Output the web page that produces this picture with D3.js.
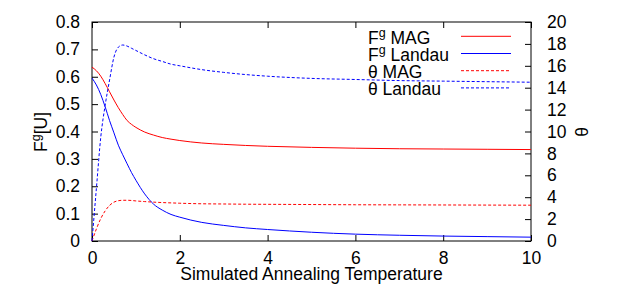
<!DOCTYPE html>
<html>
<head>
<meta charset="utf-8">
<script src="https://cdn.jsdelivr.net/npm/d3@7.9.0/dist/d3.min.js"></script>
<style>
  body { margin: 0; background: #fff; }
  text { font-family: "Liberation Sans", Arial, sans-serif; }
</style>
</head>
<body>
<div id="chart"></div>
<script>
// temperature samples
var temps = [0, 0.1, 0.2, 0.3, 0.4, 0.5, 0.6, 0.7, 0.8, 0.9, 1.0, 1.2, 1.4, 1.6, 1.8, 2.0, 2.5, 3, 3.5, 4, 5, 6, 7, 8, 9, 10];

// F^g (left axis)
var fMag    = [0.635, 0.622, 0.602, 0.575, 0.545, 0.515, 0.487, 0.462, 0.440, 0.426, 0.415, 0.398, 0.387, 0.378, 0.372, 0.367, 0.358, 0.353, 0.349, 0.346, 0.342, 0.339, 0.337, 0.336, 0.335, 0.334];
var fLandau = [0.595, 0.570, 0.535, 0.490, 0.440, 0.395, 0.350, 0.315, 0.282, 0.250, 0.222, 0.172, 0.135, 0.113, 0.097, 0.087, 0.068, 0.057, 0.048, 0.042, 0.032, 0.025, 0.021, 0.018, 0.016, 0.014];

// theta (right axis)
var thMag    = [0, 1.1, 2.05, 2.75, 3.25, 3.55, 3.68, 3.72, 3.72, 3.70, 3.66, 3.60, 3.55, 3.51, 3.48, 3.45, 3.40, 3.38, 3.36, 3.35, 3.33, 3.31, 3.30, 3.29, 3.28, 3.27];
var thLandau = [0, 4.8, 9.5, 12.4, 14.7, 16.8, 17.7, 17.9, 17.8, 17.6, 17.4, 17.0, 16.65, 16.4, 16.15, 16.0, 15.65, 15.4, 15.2, 15.05, 14.85, 14.75, 14.65, 14.6, 14.55, 14.5];

var xTicks = [0, 2, 4, 6, 8, 10];
var leftTicks = [0, 0.1, 0.2, 0.3, 0.4, 0.5, 0.6, 0.7, 0.8];
var rightTicks = [0, 2, 4, 6, 8, 10, 12, 14, 16, 18, 20];

var W = 623, H = 294;
var margin = {top: 22, right: 92, bottom: 53, left: 92};
var width = W - margin.left - margin.right,
    height = H - margin.top - margin.bottom;

var svg = d3.select("#chart").append("svg")
    .attr("width", W)
    .attr("height", H);

var g = svg.append("g")
    .attr("transform", "translate(" + margin.left + "," + margin.top + ")");

var x = d3.scaleLinear().domain([0, 10]).range([0, width]);
var y = d3.scaleLinear().domain([0, 0.8]).range([height, 0]);
var y2 = d3.scaleLinear().domain([0, 20]).range([height, 0]);

var fontSize = 17.5;

function styleAxis(sel) {
    sel.select(".domain").remove();
    sel.selectAll("line").attr("stroke", "#000");
    sel.selectAll("text").attr("font-size", fontSize).attr("fill", "#000")
        .attr("font-family", "Liberation Sans, Arial, sans-serif");
}

// left
g.append("g")
    .call(d3.axisLeft(y).tickValues(leftTicks).tickSize(-6).tickPadding(12)
        .tickFormat(d => d === 0 ? "0" : d3.format(".1f")(d)))
    .call(styleAxis);

// bottom
g.append("g")
    .attr("transform", "translate(0," + height + ")")
    .call(d3.axisBottom(x).tickValues(xTicks).tickSize(-6).tickPadding(11))
    .call(styleAxis);

// top (mirror, no labels)
g.append("g")
    .call(d3.axisTop(x).tickValues(xTicks).tickSize(-6).tickFormat(""))
    .call(styleAxis);

// right
g.append("g")
    .attr("transform", "translate(" + width + ",0)")
    .call(d3.axisRight(y2).tickValues(rightTicks).tickSize(-6).tickPadding(16))
    .call(styleAxis);

// border
g.append("rect")
    .attr("width", width)
    .attr("height", height)
    .attr("fill", "none")
    .attr("stroke", "#000")
    .attr("stroke-width", 1);

var series = [
    {name: "MAG", sym: "F", vals: fMag, scale: y, color: "#ff0000", dash: null},
    {name: "Landau", sym: "F", vals: fLandau, scale: y, color: "#0000ff", dash: null},
    {name: "MAG", sym: "θ", vals: thMag, scale: y2, color: "#ff0000", dash: "3,2"},
    {name: "Landau", sym: "θ", vals: thLandau, scale: y2, color: "#0000ff", dash: "3,2"}
];

series.forEach(function(s) {
    var line = d3.line()
        .x((d, i) => x(temps[i]))
        .y(d => s.scale(d))
        .curve(d3.curveMonotoneX);
    g.append("path")
        .datum(s.vals)
        .attr("d", line)
        .attr("fill", "none")
        .attr("stroke", s.color)
        .attr("stroke-width", 1)
        .attr("stroke-dasharray", s.dash);
});

// legend
var legend = svg.append("g");
series.forEach(function(s, i) {
    var ly = 36.3 + i * 17.2;
    var t = legend.append("text")
        .attr("x", 368)
        .attr("y", ly + 7.5)
        .attr("font-size", fontSize);
    t.append("tspan").text(s.sym);
    if (s.sym === "F") {
        t.append("tspan").attr("dy", -7).attr("font-size", 12.5).text("g");
        t.append("tspan").attr("dy", 7).text(" " + s.name);
    } else {
        t.append("tspan").text(" " + s.name);
    }
    legend.append("line")
        .attr("x1", 461).attr("x2", 511)
        .attr("y1", ly).attr("y2", ly)
        .attr("stroke", s.color)
        .attr("stroke-width", 1)
        .attr("stroke-dasharray", s.dash);
});

// x axis title
svg.append("text")
    .attr("x", margin.left + width / 2)
    .attr("y", 280)
    .attr("text-anchor", "middle")
    .attr("font-size", fontSize)
    .text("Simulated Annealing Temperature");

// left title
var lt = svg.append("text")
    .attr("transform", "translate(47,132) rotate(-90)")
    .attr("text-anchor", "middle")
    .attr("font-size", fontSize);
lt.append("tspan").text("F");
lt.append("tspan").attr("dy", -7).attr("font-size", 12.5).text("g");
lt.append("tspan").attr("dy", 7).text("[U]");

// right title
svg.append("text")
    .attr("transform", "translate(588,132) rotate(-90)")
    .attr("text-anchor", "middle")
    .attr("font-size", fontSize)
    .text("θ");
</script>
</body>
</html>
